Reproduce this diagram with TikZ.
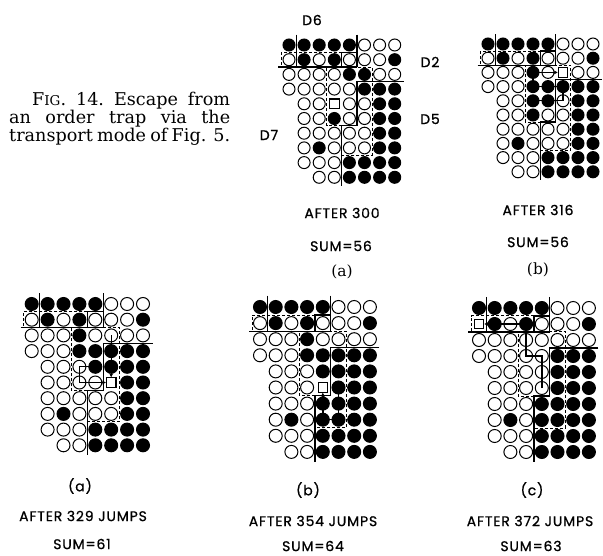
\documentclass[tikz,border=0pt]{standalone}
\usepackage{fontspec}
\setmainfont{DejaVu Serif}
\newfontfamily\lettering[LetterSpace=6, FakeBold=0.8]{Poppins}
\usetikzlibrary{arrows.meta}

% one grid of beads: #1 = name prefix, #2 = rows (b full, w empty, s hole, n none)
\newcommand{\beadgrid}[2]{%
  \foreach \rw [count=\ri from 0] in {#2} {
    \foreach \cl [count=\ci from 0] in \rw {
      \if\cl b\node[fullbead] (#1-\ri-\ci) at (\ci,\ri) {};\fi
      \if\cl w\node[emptybead] (#1-\ri-\ci) at (\ci,\ri) {};\fi
      \if\cl s\node[hole] (#1-\ri-\ci) at (\ci,\ri) {};\fi
    }
  }
}

% domain walls and the two dashed cells
\newcommand{\domainwalls}{%
  \draw[wall] (0.5,-0.7) -- (0.5,1.5) (-0.7,1.5) -- (4.5,1.5) (3.5,1.5) -- (3.5,0.5) -- (4.5,0.5) (4.5,-0.7) -- (4.5,1.5);
  \draw[wall] (7.6,2.5) -- (4.5,2.5) -- (4.5,5.5) -- (3.5,5.5) -- (3.5,9.6);
  \draw[dashwall] (3.5,0.5) -- (-0.5,0.5) -- (-0.5,1.5);
  \draw[dashwall] (3.5,5.5) -- (2.5,5.5) -- (2.5,1.5) -- (5.5,1.5) -- (5.5,7.5) -- (3.5,7.5);
}

\begin{document}
\begin{tikzpicture}[
    x=1pt, y=-1pt,
    bead/.style={circle, draw, line width=1pt, minimum size=12pt, inner sep=0pt},
    fullbead/.style={bead, fill=black},
    emptybead/.style={bead, fill=white},
    hole/.style={rectangle, draw, fill=white, line width=1.1pt, minimum size=9.5pt, inner sep=0pt},
    wall/.style={line width=1.2pt},
    dashwall/.style={line width=1pt, dash pattern=on 3pt off 2pt},
    trail/.style={line width=1.4pt},
    trailend/.style={trail, -{Stealth[length=4pt, width=4pt]}},
    captionline/.style={anchor=base west, inner sep=0pt, font=\fontsize{17.6}{18}\selectfont},
    tag/.style={font=\lettering\fontsize{14}{14}\selectfont, inner sep=0pt},
    jumptag/.style={font=\lettering\fontsize{14}{14}\selectfont, inner sep=0pt},
    serieslabel/.style={font=\fontsize{15.5}{15.5}\selectfont, inner sep=0pt},
]
\useasboundingbox (0,0) rectangle (603,556);

% Caption
\node[captionline] (cap1) at (32,106)
  {\makebox[198pt][l]{F{\fontsize{13.5}{18}\selectfont IG}.\hfill 14.\hfill Escape\hfill from}};
\node[captionline] (cap2) at (9,124) {\makebox[221pt][s]{an order trap via the}};
\node[captionline] (cap3) at (9,142) {\makebox[221pt][s]{transport mode of Fig. 5.}};

% (a) after 300
\begin{scope}[shift={(289,45)}, x=15.1pt, y=-14.7pt]
  \domainwalls
  \beadgrid{At}{{b,b,b,b,b,w,w,w},{w,b,w,b,w,w,w,b},{w,w,w,w,b,b,w,w},{w,w,w,w,w,b,b,b},
    {n,w,w,s,w,w,b,b},{n,w,w,b,w,w,b,b},{n,w,w,w,w,w,b,b},{n,w,b,w,w,w,b,b},
    {n,w,w,w,b,b,b,b},{n,n,w,w,b,b,b,b}}
\end{scope}
\node[tag] (d6) at (312,20) {D6};
\node[tag] (d2) at (430,62) {D2};
\node[tag] (d5) at (430,119) {D5};
\node[tag] (d7) at (269,135) {D7};
\node[tag] (atime) at (342,213) {AFTER 300};
\node[tag] (asum) at (341,246) {SUM=56};
\node[serieslabel] (alabel) at (342,272) {(a)};

% (b) after 316
\begin{scope}[shift={(488,44)}, x=15pt, y=-14.2pt]
  \domainwalls
  \beadgrid{Bt}{{b,b,b,b,b,w,w,w},{w,b,w,b,w,w,w,b},{w,w,w,b,w,s,w,w},{w,w,w,b,b,b,b,b},
    {n,w,w,b,b,w,b,b},{n,w,w,b,w,w,b,b},{n,w,w,w,w,w,b,b},{n,w,b,w,w,w,b,b},
    {n,w,w,w,b,b,b,b},{n,n,w,w,b,b,b,b}}
\end{scope}
\draw[trailend] (Bt-4-3.center) -- (Bt-4-5.center) -- (Bt-3-5.center) -- (Bt-3-3.center)
  -- (Bt-2-3.center) -- (Bt-2-5);
\node[tag] (btime) at (538,210) {AFTER 316};
\node[tag] (bsum) at (538,242) {SUM=56};
\node[serieslabel] (blabel) at (538,270) {(b)};

% (a) after 329 jumps
\begin{scope}[shift={(31.7,304)}, x=15.9pt, y=-15.7pt, bead/.append style={minimum size=13pt}]
  \domainwalls
  \beadgrid{Ab}{{b,b,b,b,b,w,w,w},{w,b,w,b,w,w,w,b},{w,w,w,b,w,w,w,w},{w,w,w,b,b,b,b,b},
    {n,w,w,w,b,b,b,b},{n,w,w,w,w,s,b,b},{n,w,w,w,w,w,b,b},{n,w,b,w,w,w,b,b},
    {n,w,w,w,b,b,b,b},{n,n,w,w,b,b,b,b}}
\end{scope}
\draw[trailend] (Ab-2-5.center) -- (Ab-5-5);
\draw[trailend] (Ab-4-4.center) -- (Ab-4-3.center) -- (Ab-5-3.center) -- (Ab-5-5);
\node[jumptag] (cnum) at (80,486) {(a)};
\node[jumptag] (ctime) at (83,516) {AFTER 329 JUMPS};
\node[jumptag] (csum) at (82,544) {SUM=61};

% (b) after 354 jumps
\begin{scope}[shift={(260,307)}, x=15.7pt, y=-16.1pt, bead/.append style={minimum size=13pt}]
  \domainwalls
  \beadgrid{Bb}{{b,b,b,b,b,w,w,w},{w,b,w,b,w,w,w,b},{w,w,w,b,w,w,w,w},{w,w,w,b,b,b,b,b},
    {n,w,w,w,b,b,b,b},{n,w,w,w,s,b,b,b},{n,w,w,w,b,b,b,b},{n,w,b,w,b,b,b,b},
    {n,w,w,w,b,b,b,b},{n,n,w,w,b,b,b,b}}
\end{scope}
\draw[trailend] (Bb-5-5.center) -- (Bb-7-5.center) -- (Bb-7-4.center) -- (Bb-5-4);
\node[jumptag] (dnum) at (308,490) {(b)};
\node[jumptag] (dtime) at (313,521) {AFTER 354 JUMPS};
\node[jumptag] (dsum) at (313,546) {SUM=64};

% (c) after 372 jumps
\begin{scope}[shift={(479,308)}, x=15.7pt, y=-16pt, bead/.append style={minimum size=13pt}]
  \domainwalls
  \beadgrid{Cb}{{b,b,b,b,b,w,w,w},{s,b,w,b,w,w,w,b},{w,w,w,w,w,w,w,w},{w,w,w,w,w,b,b,b},
    {n,w,w,w,w,b,b,b},{n,w,w,w,w,b,b,b},{n,w,w,w,b,b,b,b},{n,w,b,w,b,b,b,b},
    {n,w,w,w,b,b,b,b},{n,n,w,w,b,b,b,b}}
\end{scope}
\draw[trailend] (Cb-5-4.center) -- (Cb-3-4.center) -- (Cb-3-3.center) -- (Cb-1-3.center) -- (Cb-1-0);
\node[jumptag] (enum) at (532,490) {(c)};
\node[jumptag] (etime) at (530,521) {AFTER 372 JUMPS};
\node[jumptag] (esum) at (531,546) {SUM=63};

\end{tikzpicture}
\end{document}
